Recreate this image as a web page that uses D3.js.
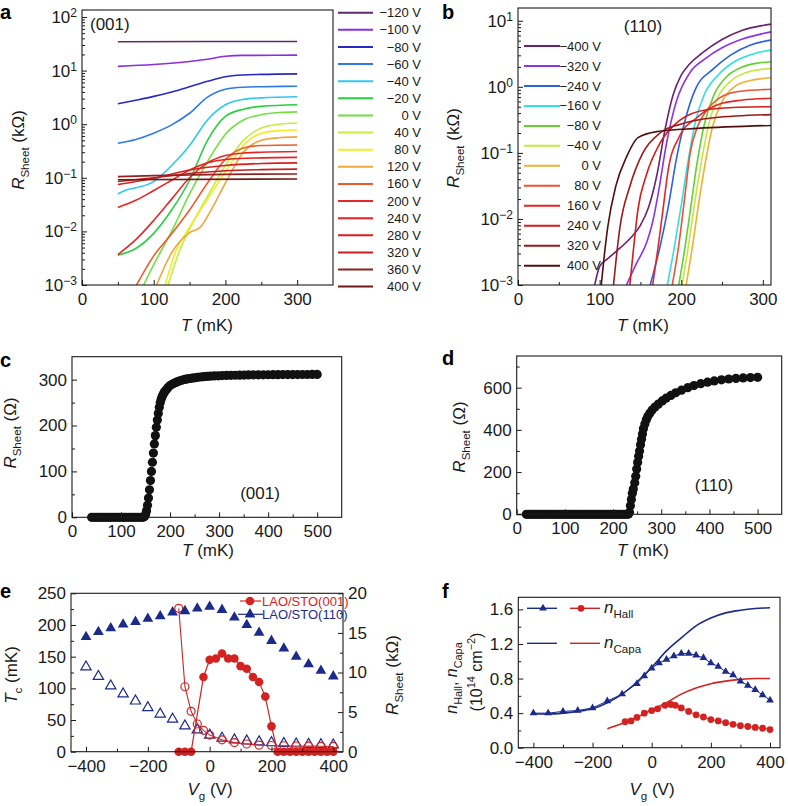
<!DOCTYPE html>
<html><head><meta charset="utf-8">
<script src="https://cdn.jsdelivr.net/npm/d3@7"></script>
<style>body{margin:0;background:#fff}</style>
</head><body>
<script>
// ================= DATA =================
// ---- panel a : (001), R vs T, 17 gate voltages ----
const legendA = ['−120 V','−100 V','−80 V','−60 V','−40 V','−20 V','0 V','40 V','80 V','120 V','160 V','200 V','240 V','280 V','320 V','360 V','400 V'];
const colorsA = ['#5e2a6e','#8c2ee0','#2828c8','#2e7ae6','#30c8f0','#28d040','#70e040','#c8ec40','#f4ec20','#eea840','#ef5a2a','#e42828','#ea2020','#dc1e1e','#c41e1e','#922020','#6e1818'];
const a_m120 = [[50,34.5],[175,34.8],[300,35]];
const a_m100 = [[50,12],[100,13],[150,14.8],[175,16.3],[200,18.5],[225,19.2],[300,19.4]];
const a_m80  = [[50,2.4],[75,2.8],[100,3.3],[125,4.0],[150,5.0],[175,6.3],[200,7.7],[225,8.3],[250,8.5],[300,8.7]];
const a_m60  = [[50,0.44],[75,0.52],[100,0.68],[125,0.97],[150,1.6],[175,3.2],[200,4.5],[225,4.9],[250,5.0],[300,5.1]];
const a_m40  = [[50,0.050],[60,0.058],[75,0.065],[100,0.085],[125,0.17],[150,0.40],[175,1.2],[200,2.3],[225,2.9],[250,3.1],[300,3.25]];
const a_m20  = [[50,0.0036],[75,0.0048],[100,0.0092],[125,0.025],[150,0.09],[175,0.5],[200,1.4],[225,1.9],[250,2.15],[300,2.3]];
const a_0    = [[86,0.001],[100,0.0024],[125,0.010],[150,0.05],[175,0.2],[200,0.65],[225,1.2],[250,1.5],[275,1.65],[300,1.7]];
const a_40   = [[120,0.001],[135,0.004],[150,0.011],[175,0.045],[200,0.17],[225,0.5],[250,0.85],[275,1.0],[300,1.05]];
const a_80   = [[116,0.001],[130,0.004],[150,0.012],[175,0.04],[200,0.13],[225,0.4],[250,0.68],[275,0.76],[300,0.78]];
const a_120  = [[104,0.001],[125,0.004],[150,0.0095],[165,0.012],[180,0.025],[200,0.08],[225,0.3],[250,0.5],[275,0.56],[300,0.58]];
const a_160  = [[76,0.001],[100,0.0035],[125,0.009],[150,0.025],[175,0.08],[200,0.22],[225,0.36],[250,0.40],[300,0.41]];
const a_200  = [[50,0.0037],[75,0.007],[100,0.016],[125,0.04],[150,0.1],[175,0.19],[200,0.26],[225,0.29],[250,0.30],[300,0.31]];
const a_240  = [[50,0.028],[75,0.038],[100,0.058],[125,0.09],[150,0.14],[175,0.19],[200,0.22],[250,0.235],[300,0.24]];
const a_280  = [[50,0.075],[100,0.098],[150,0.14],[200,0.17],[250,0.185],[300,0.19]];
const a_320  = [[50,0.085],[100,0.10],[150,0.12],[200,0.135],[250,0.142],[300,0.145]];
const a_360  = [[50,0.105],[100,0.11],[150,0.113],[200,0.116],[300,0.118]];
const a_400  = [[50,0.092],[300,0.095]];
const curvesA = [a_m120,a_m100,a_m80,a_m60,a_m40,a_m20,a_0,a_40,a_80,a_120,a_160,a_200,a_240,a_280,a_320,a_360,a_400];

// ---- panel b : (110), R vs T, 12 gate voltages ----
const legendB = ['−400 V','−320 V','−240 V','−160 V','−80 V','−40 V','0 V','80 V','160 V','240 V','320 V','400 V'];
const colorsB = ['#6a2372','#8d33e6','#2a62e0','#2fe0e6','#62d030','#c6e83e','#f2b032','#ef5230','#e82424','#d41c1c','#9a1a1c','#4e1010'];
const b_m400 = [[94,0.001],[100,0.0019],[110,0.0025],[120,0.0032],[137,0.005],[150,0.008],[160,0.015],[170,0.045],[180,0.22],[190,0.75],[200,1.5],[210,2.2],[225,3.2],[250,5.2],[275,7.2],[300,8.5],[310,8.9]];
const b_m320 = [[133,0.001],[145,0.0021],[158,0.0045],[165,0.009],[172,0.025],[182,0.14],[194,0.6],[210,1.6],[230,2.7],[250,3.9],[275,5.3],[300,6.4],[310,6.8]];
const b_m240 = [[162,0.001],[174,0.0038],[184,0.015],[194,0.08],[205,0.32],[217,0.9],[240,1.9],[260,3.0],[285,4.3],[310,5.1]];
const b_m160 = [[183,0.001],[192,0.004],[200,0.016],[208,0.07],[217,0.28],[228,0.75],[245,1.5],[265,2.4],[290,3.2],[310,3.6]];
const b_m80  = [[197,0.001],[205,0.004],[212,0.016],[219,0.065],[228,0.26],[240,0.75],[255,1.4],[275,2.0],[295,2.3],[310,2.4]];
const b_m40  = [[201,0.001],[209,0.004],[216,0.016],[224,0.065],[233,0.25],[245,0.7],[260,1.2],[280,1.65],[300,1.85],[310,1.9]];
const b_0    = [[206,0.001],[214,0.004],[221,0.016],[229,0.065],[238,0.24],[250,0.6],[265,1.0],[285,1.25],[310,1.37]];
const b_80   = [[189,0.001],[197,0.004],[204,0.02],[211,0.1],[220,0.25],[230,0.42],[247,0.68],[270,0.85],[310,0.92]];
const b_160  = [[165,0.001],[172,0.004],[178,0.015],[184,0.055],[198,0.18],[219,0.34],[247,0.55],[275,0.63],[310,0.67]];
const b_240  = [[137,0.001],[142,0.004],[147,0.014],[157,0.045],[174,0.14],[198,0.31],[231,0.45],[270,0.49],[310,0.50]];
const b_320  = [[117,0.001],[121,0.003],[125,0.0076],[137,0.031],[153,0.1],[174,0.2],[198,0.27],[240,0.34],[310,0.38]];
const b_400  = [[102,0.001],[106,0.003],[110,0.0076],[120,0.032],[133,0.087],[147,0.17],[170,0.21],[220,0.235],[310,0.26]];
const curvesB = [b_m400,b_m320,b_m240,b_m160,b_m80,b_m40,b_0,b_80,b_160,b_240,b_320,b_400];

// ---- panel c : (001) R(T) in ohm ----
const cTemp = [40,45,50,55,60,65,70,75,80,85,90,95,100,105,110,115,120,125,130,135,140,145,
  148,150,152,154,156,158,160,162,164,166,168,170,172,174,176,178,180,182,184,186,188,190,
  193,196,200,204,208,212,216,220,225,230,235,240,245,250,256,262,268,275,282,290,298,306,
  315,324,333,342,351,360,370,380,390,400,410,420,430,440,450,460,470,480,490,500];
const cRes = [0,0,0,0,0,0,0,0,0,0,0,0,0,0,0,0,0,0,0,0,0,0,
  2,6,14,26,42,60,80,100,120,140,160,178,196,212,226,240,250,258,264,268,272,275,
  279,283,287,290,292,294,296,297.5,299,300.5,301.5,302.5,303.5,304,305,305.8,306.5,307,307.5,308,308.4,308.8,
  309.1,309.4,309.6,309.8,310,310.2,310.4,310.5,310.6,310.7,310.8,310.9,311,311,311.1,311.1,311.2,311.2,311.3,311.3];

// ---- panel d : (110) R(T) in ohm ----
const dTemp = [20,25,30,35,40,45,50,55,60,65,70,75,80,85,90,95,100,105,110,115,120,125,130,135,140,145,150,155,160,165,170,175,180,185,190,195,200,205,210,215,220,225,230,
  232,234,236,238,240,242,245,247,249,251,253,255,257,259,261,263,266,269,272,276,281,287,294,302,310,320,330,342,355,368,382,396,410,425,440,455,470,485,500];
const dRes = [0,0,0,0,0,0,0,0,0,0,0,0,0,0,0,0,0,0,0,0,0,0,0,0,0,0,0,0,0,0,0,0,0,0,0,0,0,0,0,0,0,0,0,
  2,10,40,70,100,120,150,180,215,245,275,300,330,355,380,405,428,448,463,478,494,508,522,537,550,563,576,588,600,610,619,626,632,637,641,644,646,648,649];

// ---- panel e ----
const eVg110 = [-400,-360,-320,-280,-240,-200,-160,-120,-80,-40,0,40,80,120,160,200,240,280,320,360,400];
const eTc110 = [181,189,195,201,205,210,214,220,222,226,229,224,212,200,188,175,163,150,138,128,119];
const eRs110 = [10.7,9.5,8.3,7.3,6.4,5.55,4.75,4.1,3.25,2.75,2.1,1.7,1.5,1.35,1.25,1.15,1.05,0.97,0.93,0.89,0.85];
const eVgTc001 = [-100,-80,-60,-20,0,20,40,60,80,100,120,140,160,180,200,220,240,260,280,300,320,340,360,380,400];
const eTc001 = [0,0,0,118,145,147,155,147,147,135,131,118,110,87,40,0,0,0,0,0,0,0,0,0,0];
const eVgRs001 = [-100,-80,-60,-40,-20,0,40,80,120,160,200,240,280,320,360,400];
const eRs001 = [18.1,8.2,5.1,3.5,2.7,2.1,1.5,1.15,0.97,0.82,0.78,0.75,0.72,0.7,0.68,0.66];

// ---- panel f ----
const fVgHall110 = [-400,-350,-300,-250,-200,-150,-100,-50,-25,0,25,50,75,100,125,150,175,200,225,250,275,300,325,350,375,400];
const fHall110 = [0.40,0.40,0.42,0.43,0.46,0.54,0.62,0.74,0.83,0.92,0.98,1.02,1.06,1.09,1.09,1.07,1.04,0.98,0.94,0.88,0.84,0.77,0.72,0.67,0.61,0.55];
const fVgHall001 = [-90,-70,-50,-25,0,20,45,65,80,100,125,150,175,200,225,250,275,300,325,350,375,400];
const fHall001 = [0.30,0.31,0.35,0.40,0.43,0.45,0.49,0.50,0.49,0.46,0.42,0.38,0.355,0.325,0.31,0.29,0.27,0.255,0.245,0.235,0.225,0.21];
const fVgCapa110 = [-400,-350,-300,-250,-200,-150,-100,-50,0,50,100,150,200,250,300,350,400];
const fCapa110 = [0.39,0.39,0.40,0.42,0.45,0.52,0.62,0.76,0.93,1.12,1.27,1.41,1.50,1.56,1.59,1.61,1.62];
const fVgCapa001 = [-150,-100,-50,0,50,100,150,200,250,300,350,400];
const fCapa001 = [0.22,0.28,0.35,0.44,0.52,0.62,0.69,0.74,0.77,0.79,0.80,0.80];

// ================= DRAWING =================
const FONT = '"Liberation Sans", Arial, Helvetica, sans-serif';
const INK = '#1a1a1a';
const RED = '#d42222', NAVY = '#1c2a8a';
const svg = d3.select('body').append('svg').attr('width',788).attr('height',806)
  .style('font-family',FONT);

function ax(orient, scale, pos, values, size, fmt, pad){
  const f = orient==='b'?d3.axisBottom:orient==='l'?d3.axisLeft:d3.axisRight;
  const gen = f(scale).tickValues(values).tickSize(-size).tickPadding(pad==null?6:pad)
    .tickFormat(fmt || (()=>''));
  const a = svg.append('g').attr('transform', orient==='b'?`translate(0,${pos})`:`translate(${pos},0)`).call(gen);
  a.select('.domain').remove();
  a.attr('font-size',17).attr('font-family',FONT);
  a.selectAll('line').attr('stroke',INK).attr('stroke-width',1);
  a.selectAll('text').attr('fill',INK);
  return a;
}
function frame(x,y){
  const [x0,x1]=x.range(), [y0,y1]=y.range();
  svg.append('rect').attr('x',x0).attr('y',y1).attr('width',x1-x0).attr('height',y0-y1)
    .attr('fill','none').attr('stroke',INK).attr('stroke-width',1.1);
}
function pow10(a){
  a.selectAll('.tick text').each(function(d){
    const e=Math.round(Math.log10(d)); const t=d3.select(this); t.text('');
    t.append('tspan').text('10');
    t.append('tspan').attr('dy','-0.5em').attr('font-size',12).text(e<0?'−'+(-e):String(e));
  });
}
// parts: [text, italic, mode('sub'|'sup'|'')]
function rich(x,y,parts,size,anchor,rot,color){
  const t=svg.append('text').attr('x',x).attr('y',y).attr('font-size',size)
    .attr('text-anchor',anchor||'middle').attr('fill',color||INK);
  if(rot) t.attr('transform',`rotate(-90 ${x} ${y})`);
  let shift=0;
  parts.forEach(p=>{
    const s=t.append('tspan').text(p[0]);
    const mode=p[2]||'';
    const target = mode==='sub'? size*0.3 : mode==='sup'? -size*0.42 : 0;
    if(target!==shift){ s.attr('dy',target-shift); shift=target; }
    if(mode) s.attr('font-size',size*0.68);
    if(p[1]) s.attr('font-style','italic');
  });
  return t;
}
function letter(txt,x,y){ svg.append('text').attr('x',x).attr('y',y).attr('font-size',20).attr('font-weight','bold').attr('fill','#000').text(txt); }
function clip(id,x,y){
  const [x0,x1]=x.range(), [y0,y1]=y.range();
  svg.append('clipPath').attr('id',id).append('rect').attr('x',x0).attr('y',y1).attr('width',x1-x0).attr('height',y0-y1);
  return `url(#${id})`;
}
function logMinor(lo,hi){ const out=[]; for(let e=-3;e<=2;e++) for(let k=2;k<=9;k++){const v=k*Math.pow(10,e); if(v>lo&&v<hi) out.push(v);} return out; }
const fmtInt = d3.format('d');

// ---------- panel a ----------
const xA=d3.scaleLinear().domain([0,350]).range([82,333]);
const yA=d3.scaleLog().domain([1e-3,135]).range([285,10]);
const clA=clip('clA',xA,yA);
const lineA=d3.line().x(d=>xA(d[0])).y(d=>yA(d[1])).curve(d3.curveMonotoneX);
svg.append('g').attr('clip-path',clA).selectAll('path').data(curvesA).join('path')
  .attr('d',lineA).attr('fill','none').attr('stroke',(d,i)=>colorsA[i]).attr('stroke-width',1.6);
ax('b',xA,285,[0,100,200,300],5,fmtInt,8);
ax('b',xA,285,[50,150,250],3);
pow10(ax('l',yA,82,[1e-3,1e-2,1e-1,1,10,100],5,d=>d,5));
ax('l',yA,82,logMinor(1e-3,135),3);
frame(xA,yA);
svg.append('text').attr('x',90).attr('y',30).attr('font-size',17).attr('fill',INK).text('(001)');
const legA=svg.append('g').selectAll('g').data(legendA).join('g')
  .attr('transform',(d,i)=>`translate(0,${12.7+i*17.12})`);
legA.append('line').attr('x1',338).attr('x2',373).attr('stroke',(d,i)=>colorsA[i]).attr('stroke-width',2);
legA.append('text').attr('x',421).attr('dy','0.35em').attr('text-anchor','end').attr('font-size',13).attr('fill',INK).text(d=>d);
rich(207,331,[['T',true],[' (mK)']],17);
rich(24,150,[['R',true],['Sheet',false,'sub'],[' (kΩ)']],17,'middle',true);
letter('a',0,19);

// ---------- panel b ----------
const xB=d3.scaleLinear().domain([0,310]).range([518,771]);
const yB=d3.scaleLog().domain([1e-3,15.6]).range([285,8]);
const clB=clip('clB',xB,yB);
const lineB=d3.line().x(d=>xB(d[0])).y(d=>yB(d[1])).curve(d3.curveMonotoneX);
svg.append('g').attr('clip-path',clB).selectAll('path').data(curvesB).join('path')
  .attr('d',lineB).attr('fill','none').attr('stroke',(d,i)=>colorsB[i]).attr('stroke-width',1.6);
ax('b',xB,285,[0,100,200,300],5,fmtInt,8);
ax('b',xB,285,[50,150,250],3);
pow10(ax('l',yB,518,[1e-3,1e-2,1e-1,1,10],5,d=>d,5));
ax('l',yB,518,logMinor(1e-3,15.6),3);
frame(xB,yB);
svg.append('text').attr('x',643).attr('y',32).attr('text-anchor','middle').attr('font-size',17).attr('fill',INK).text('(110)');
const legB=svg.append('g').selectAll('g').data(legendB).join('g')
  .attr('transform',(d,i)=>`translate(0,${46+i*19.97})`);
legB.append('line').attr('x1',524).attr('x2',560).attr('stroke',(d,i)=>colorsB[i]).attr('stroke-width',2);
legB.append('text').attr('x',601).attr('dy','0.35em').attr('text-anchor','end').attr('font-size',13).attr('fill',INK).text(d=>d);
rich(643,331,[['T',true],[' (mK)']],17);
rich(459,148,[['R',true],['Sheet',false,'sub'],[' (kΩ)']],17,'middle',true);
letter('b',442,19);

// ---------- panel c ----------
const xC=d3.scaleLinear().domain([0,550]).range([72,341.7]);
const yC=d3.scaleLinear().domain([0,350]).range([517.3,356.7]);
svg.append('g').selectAll('circle').data(cTemp).join('circle')
  .attr('cx',d=>xC(d)).attr('cy',(d,i)=>yC(cRes[i])).attr('r',4.6).attr('fill','#111');
ax('b',xC,517.3,[0,100,200,300,400,500],5,fmtInt,8);
ax('b',xC,517.3,[50,150,250,350,450],3);
ax('l',yC,72,[0,100,200,300],5,fmtInt,5);
ax('l',yC,72,[50,150,250],3);
frame(xC,yC);
svg.append('text').attr('x',260).attr('y',499).attr('text-anchor','middle').attr('font-size',17).attr('fill',INK).text('(001)');
rich(208,556,[['T',true],[' (mK)']],17);
rich(16,433,[['R',true],['Sheet',false,'sub'],[' (Ω)']],17,'middle',true);
letter('c',0,367);

// ---------- panel d ----------
const xD=d3.scaleLinear().domain([0,550]).range([516.7,781.7]);
const yD=d3.scaleLinear().domain([0,750]).range([514.3,356]);
svg.append('g').selectAll('circle').data(dTemp).join('circle')
  .attr('cx',d=>xD(d)).attr('cy',(d,i)=>yD(dRes[i])).attr('r',4.6).attr('fill','#111');
ax('b',xD,514.3,[0,100,200,300,400,500],5,fmtInt,8);
ax('b',xD,514.3,[50,150,250,350,450],3);
ax('l',yD,516.7,[0,200,400,600],5,fmtInt,5);
ax('l',yD,516.7,[100,300,500,700],3);
frame(xD,yD);
svg.append('text').attr('x',714).attr('y',491).attr('text-anchor','middle').attr('font-size',17).attr('fill',INK).text('(110)');
rich(643,556,[['T',true],[' (mK)']],17);
rich(465,437,[['R',true],['Sheet',false,'sub'],[' (Ω)']],17,'middle',true);
letter('d',442,365);

// ---------- panel e ----------
const xE=d3.scaleLinear().domain([-448.6,431.4]).range([71,343]);
const yE=d3.scaleLinear().domain([0,250]).range([751.7,593.3]);
const yE2=d3.scaleLinear().domain([0,20]).range([751.7,593.3]);
const tri=d3.symbol().type(d3.symbolTriangle);
svg.append('g').selectAll('path').data(eVg110).join('path')
  .attr('transform',(d,i)=>`translate(${xE(d)},${yE2(eRs110[i])})`)
  .attr('d',tri.size(46)()).attr('fill','none').attr('stroke',NAVY).attr('stroke-width',1.2);
svg.append('path').datum(eVgRs001).attr('fill','none').attr('stroke',RED).attr('stroke-width',1.1)
  .attr('d',d3.line().x(d=>xE(d)).y((d,i)=>yE2(eRs001[i])));
svg.append('g').selectAll('circle').data(eVgRs001).join('circle')
  .attr('cx',d=>xE(d)).attr('cy',(d,i)=>yE2(eRs001[i])).attr('r',4)
  .attr('fill','none').attr('stroke',RED).attr('stroke-width',1.2);
svg.append('g').selectAll('path').data(eVg110).join('path')
  .attr('transform',(d,i)=>`translate(${xE(d)},${yE(eTc110[i])})`)
  .attr('d',tri.size(50)()).attr('fill',NAVY);
svg.append('path').datum(eVgTc001).attr('fill','none').attr('stroke',RED).attr('stroke-width',1.2)
  .attr('d',d3.line().x(d=>xE(d)).y((d,i)=>yE(eTc001[i])));
svg.append('g').selectAll('circle').data(eVgTc001).join('circle')
  .attr('cx',d=>xE(d)).attr('cy',(d,i)=>yE(eTc001[i])).attr('r',4.3).attr('fill',RED);
ax('b',xE,751.7,[-400,-200,0,200,400],5,fmtInt,8);
ax('b',xE,751.7,[-300,-100,100,300],3);
ax('l',yE,71,[0,50,100,150,200,250],5,fmtInt,5);
ax('l',yE,71,[25,75,125,175,225],3);
ax('r',yE2,343,[0,5,10,15,20],5,fmtInt,5);
ax('r',yE2,343,[2.5,7.5,12.5,17.5],3);
frame(xE,yE);
svg.append('line').attr('x1',240).attr('x2',261).attr('y1',601).attr('y2',601).attr('stroke',RED).attr('stroke-width',1.2);
svg.append('circle').attr('cx',250).attr('cy',601).attr('r',4.3).attr('fill',RED);
svg.append('text').attr('x',262).attr('y',605.5).attr('font-size',13).attr('fill',RED).text('LAO/STO(001)');
svg.append('line').attr('x1',238).attr('x2',263).attr('y1',614.3).attr('y2',614.3).attr('stroke',NAVY).attr('stroke-width',1.2);
svg.append('path').attr('transform','translate(250,614.3)').attr('d',tri.size(50)()).attr('fill',NAVY);
svg.append('text').attr('x',262).attr('y',619).attr('font-size',13).attr('fill',NAVY).text('LAO/STO(110)');
rich(210,795,[['V',true],['g',false,'sub'],[' (V)']],17);
rich(17,675,[['T',true],['c',false,'sub'],[' (mK)']],17,'middle',true);
rich(398,675,[['R',true],['Sheet',false,'sub'],[' (kΩ)']],17,'middle',true);
letter('e',0,598);

// ---------- panel f ----------
const xF=d3.scaleLinear().domain([-451,433.8]).range([518.3,780]);
const yF=d3.scaleLinear().domain([0,1.74]).range([747.7,597.3]);
const lineF=(vs,ns)=>d3.line().x(d=>xF(d)).y((d,i)=>yF(ns[i]))(vs);
svg.append('path').attr('fill','none').attr('stroke',NAVY).attr('stroke-width',1.6)
  .attr('d',d3.line().x(d=>xF(d)).y((d,i)=>yF(fCapa110[i])).curve(d3.curveMonotoneX)(fVgCapa110));
svg.append('path').attr('fill','none').attr('stroke',RED).attr('stroke-width',1.6)
  .attr('d',d3.line().x(d=>xF(d)).y((d,i)=>yF(fCapa001[i])).curve(d3.curveMonotoneX)(fVgCapa001));
svg.append('path').attr('d',lineF(fVgHall110,fHall110)).attr('fill','none').attr('stroke',NAVY).attr('stroke-width',1);
svg.append('path').attr('d',lineF(fVgHall001,fHall001)).attr('fill','none').attr('stroke',RED).attr('stroke-width',1);
svg.append('g').selectAll('path').data(fVgHall110).join('path')
  .attr('transform',(d,i)=>`translate(${xF(d)},${yF(fHall110[i])})`)
  .attr('d',tri.size(26)()).attr('fill',NAVY);
svg.append('g').selectAll('circle').data(fVgHall001).join('circle')
  .attr('cx',d=>xF(d)).attr('cy',(d,i)=>yF(fHall001[i])).attr('r',3.4).attr('fill',RED);
ax('b',xF,747.7,[-400,-200,0,200,400],5,fmtInt,8);
ax('b',xF,747.7,[-300,-100,100,300],3);
ax('l',yF,518.3,[0,0.4,0.8,1.2,1.6],5,d3.format('.1f'),5);
ax('l',yF,518.3,[0.2,0.6,1.0,1.4],3);
frame(xF,yF);
[[608.3,true,'Hall'],[643.3,false,'Capa']].forEach(([y,mk,sub])=>{
  svg.append('line').attr('x1',527).attr('x2',557).attr('y1',y).attr('y2',y).attr('stroke',NAVY).attr('stroke-width',1.4);
  svg.append('line').attr('x1',570).attr('x2',600).attr('y1',y).attr('y2',y).attr('stroke',RED).attr('stroke-width',1.4);
  if(mk){
    svg.append('path').attr('transform',`translate(543,${y})`).attr('d',tri.size(26)()).attr('fill',NAVY);
    svg.append('circle').attr('cx',581).attr('cy',y).attr('r',3.4).attr('fill',RED);
  }
  rich(604,y+5,[['n',true],[sub,false,'sub']],17,'start');
});
rich(652,795,[['V',true],['g',false,'sub'],[' (V)']],17);
rich(457,678,[['n',true],['Hall',false,'sub'],[', ',false],['n',true],['Capa',false,'sub']],16,'middle',true);
rich(482,672,[['(10'],['14',false,'sup'],[' cm'],['−2',false,'sup'],[')']],16,'middle',true);
letter('f',442,598);
</script>
</body></html>
